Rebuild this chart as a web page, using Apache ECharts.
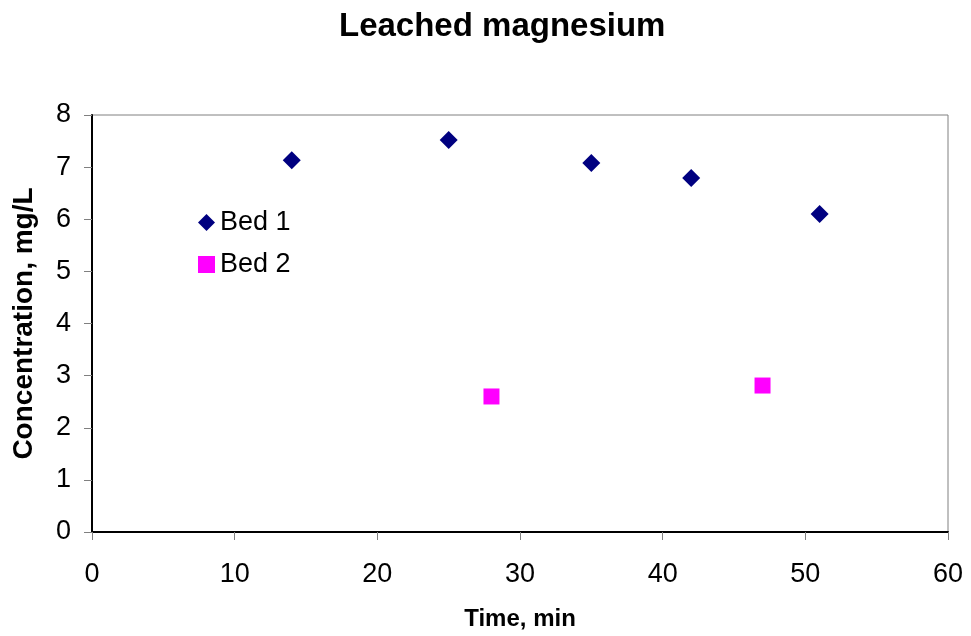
<!DOCTYPE html>
<html><head><meta charset="utf-8">
<script src="https://cdn.jsdelivr.net/npm/echarts@6/dist/echarts.min.js"></script>
<style>html,body{margin:0;padding:0;background:#fff}#c{width:971px;height:636px}</style>
</head><body><div id="c"></div>
<script>
const bed1X = [14, 25, 35, 42, 51];
const bed1Y = [7.13, 7.52, 7.08, 6.79, 6.10];
const bed2X = [28, 47];
const bed2Y = [2.60, 2.81];
const xTicks = [0, 10, 20, 30, 40, 50, 60];
const yTicks = [0, 1, 2, 3, 4, 5, 6, 7, 8];

const chart = echarts.init(document.getElementById('c'));
const font = 'Arial, "Liberation Sans", sans-serif';
chart.setOption({
  animation: false,
  backgroundColor: '#fff',
  title: {
    text: 'Leached magnesium', left: 334, top: 5,
    textStyle: { fontFamily: font, fontSize: 33, fontWeight: 'bold', color: '#000' }
  },
  grid: { left: 92, right: 23, top: 115, bottom: 104, show: true, borderColor: '#808080', borderWidth: 1 },
  legend: {
    orient: 'vertical', left: 193, top: 204, itemGap: 15, itemWidth: 17, itemHeight: 17,
    textStyle: { fontFamily: font, fontSize: 27, color: '#000' },
    data: ['Bed 1', 'Bed 2']
  },
  xAxis: {
    type: 'value', min: 0, max: 60, interval: 10,
    name: 'Time, min', nameLocation: 'middle', nameGap: 75,
    nameTextStyle: { fontFamily: font, fontSize: 24, fontWeight: 'bold', color: '#000' },
    axisLine: { show: true, lineStyle: { color: '#000', width: 2 } },
    axisTick: { show: true, length: 8, lineStyle: { color: '#808080' } },
    axisLabel: { fontFamily: font, fontSize: 27, color: '#000', margin: 29,
      formatter: v => xTicks.includes(v) ? String(v) : '' },
    splitLine: { show: false }
  },
  yAxis: {
    type: 'value', min: 0, max: 8, interval: 1,
    name: 'Concentration, mg/L', nameLocation: 'middle', nameGap: 54,
    nameTextStyle: { fontFamily: font, fontSize: 28, fontWeight: 'bold', color: '#000' },
    axisLine: { show: true, lineStyle: { color: '#000', width: 2 } },
    axisTick: { show: true, length: 8, lineStyle: { color: '#808080' } },
    axisLabel: { fontFamily: font, fontSize: 27, color: '#000', margin: 21,
      formatter: v => yTicks.includes(v) ? String(v) : '' },
    splitLine: { show: false }
  },
  series: [
    { name: 'Bed 1', type: 'scatter', symbol: 'diamond', symbolSize: 18,
      itemStyle: { color: '#000080', opacity: 1 },
      data: bed1X.map((x, i) => [x, bed1Y[i]]) },
    { name: 'Bed 2', type: 'scatter', symbol: 'rect', symbolSize: 16,
      itemStyle: { color: '#FF00FF', opacity: 1 },
      data: bed2X.map((x, i) => [x, bed2Y[i]]) }
  ]
});
</script></body></html>
